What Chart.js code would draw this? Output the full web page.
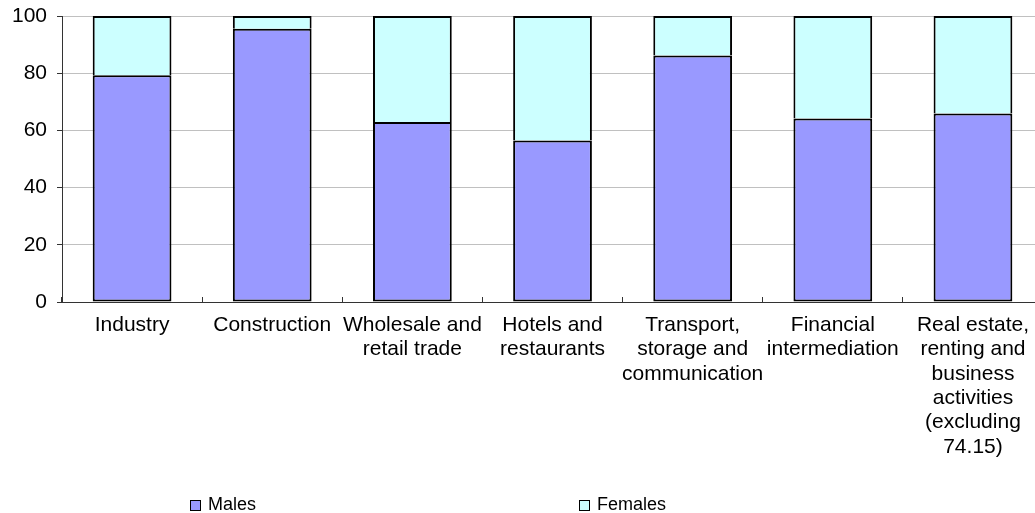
<!DOCTYPE html>
<html>
<head>
<meta charset="utf-8">
<script src="https://cdn.jsdelivr.net/npm/chart.js@4/dist/chart.umd.min.js"></script>
<style>
  html, body { margin: 0; padding: 0; background: #fff; overflow: hidden; }
  #wrap { width: 1045px; height: 513px; }
</style>
</head>
<body>
<div id="wrap"><canvas id="chart" width="1045" height="513"></canvas></div>
<script>
// categories (multi-line labels as in the original)
const sectors = [
    'Industry',
    'Construction',
    ['Wholesale and', 'retail trade'],
    ['Hotels and', 'restaurants'],
    ['Transport,', 'storage and', 'communication'],
    ['Financial', 'intermediation'],
    ['Real estate,', 'renting and', 'business', 'activities', '(excluding', '74.15)']
];
// share of employment, %
const males = [79.3, 95.5, 62.9, 56.5, 86.2, 64.2, 65.9];
const females = [20.7, 4.5, 37.1, 43.5, 13.8, 35.8, 34.1];
const yTicks = [0, 20, 40, 60, 80, 100];

const fontName = '"Liberation Sans", Arial, sans-serif';

// legend drawn spread out like the original
const legendPlugin = {
    id: 'spreadLegend',
    afterDraw(chart) {
        const ctx = chart.ctx;
        const xs = [190, 579];
        ctx.save();
        ctx.font = '18px ' + fontName;
        ctx.textBaseline = 'alphabetic';
        chart.data.datasets.forEach(function (ds, i) {
            ctx.fillStyle = ds.backgroundColor;
            ctx.fillRect(xs[i] + 0.5, 500.5, 10, 10);
            ctx.strokeStyle = '#000';
            ctx.lineWidth = 1;
            ctx.strokeRect(xs[i] + 0.5, 500.5, 10, 10);
            ctx.fillStyle = '#000';
            ctx.fillText(ds.label, xs[i] + 18, 510);
        });
        ctx.restore();
    }
};

new Chart(document.getElementById('chart').getContext('2d'), {
    type: 'bar',
    data: {
        labels: sectors,
        datasets: [
            {
                label: 'Males',
                data: males,
                backgroundColor: '#9999FF',
                borderColor: '#000',
                borderWidth: 2,
                borderSkipped: false
            },
            {
                label: 'Females',
                data: females,
                backgroundColor: '#CCFFFF',
                borderColor: '#000',
                // bottom edge shares the males' top border
                borderWidth: { top: 2, left: 2, right: 2, bottom: 0 },
                borderSkipped: false
            }
        ]
    },
    options: {
        responsive: false,
        animation: false,
        layout: { padding: 0 },
        datasets: { bar: { barPercentage: 0.562, categoryPercentage: 1 } },
        plugins: {
            legend: { display: false },
            tooltip: { enabled: false }
        },
        scales: {
            x: {
                stacked: true,
                // negative tick length -> small marks pointing up into the plot
                grid: { display: true, drawOnChartArea: false, drawTicks: true, tickLength: -5, tickColor: '#333' },
                border: { color: '#333', width: 1 },
                ticks: {
                    color: '#000',
                    padding: 16,
                    maxRotation: 0,
                    autoSkip: false,
                    font: { family: fontName, size: 21, lineHeight: 1.16 }
                },
                afterFit: function (s) { s.height = 211; }
            },
            y: {
                stacked: true,
                min: 0,
                max: 100,
                afterBuildTicks: function (s) { s.ticks = yTicks.map(v => ({ value: v })); },
                grid: { color: '#c0c0c0', tickColor: '#333', tickLength: 5 },
                border: { color: '#333', width: 1 },
                ticks: {
                    color: '#000',
                    padding: 10,
                    font: { family: fontName, size: 21 }
                },
                afterFit: function (s) {
                    s.width = 62;
                    s.paddingTop = 16;
                    s.paddingBottom = 0;
                }
            }
        }
    },
    plugins: [legendPlugin]
});
</script>
</body>
</html>
